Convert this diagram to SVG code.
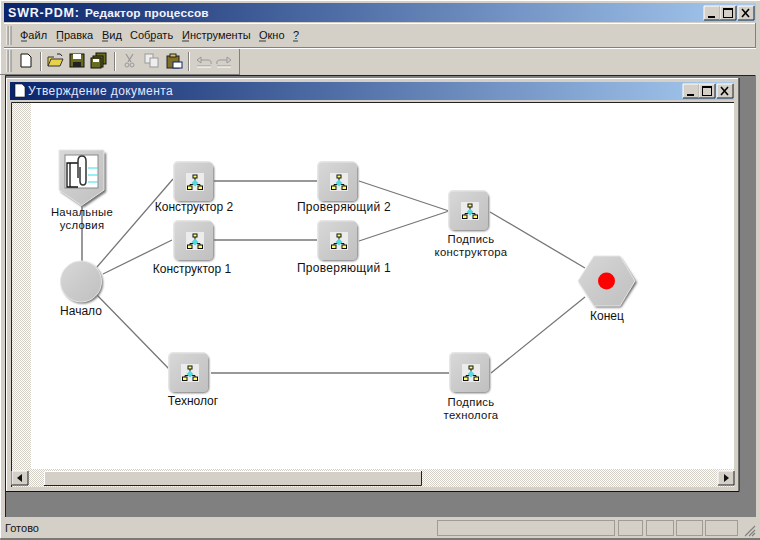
<svg xmlns="http://www.w3.org/2000/svg" xmlns:xlink="http://www.w3.org/1999/xlink" width="760" height="540" viewBox="0 0 760 540">
<style>
text{font-family:"Liberation Sans",Arial,sans-serif;font-size:11px;fill:#111}
.lbl{text-anchor:middle;font-size:12px}
.lb2{text-anchor:middle;font-size:11.3px;letter-spacing:.3px}
.cap{font-weight:bold;fill:#f4f4ff;font-size:12.5px;letter-spacing:.8px}
.cap2{font-weight:bold;fill:#f4f4ff;font-size:11.8px;letter-spacing:.2px}
.sub{fill:#e4e8ff;font-size:12px;letter-spacing:.42px}
.conn{stroke:#777;stroke-width:1.3;fill:none}
.sep{stroke:#fff;stroke-width:1}
.sep2{stroke:#808080;stroke-width:1}
.cell{fill:#d4d0c8;stroke:#a09c94;stroke-width:1}
.sq{fill:#ffff66;stroke:#111;stroke-width:1}
</style>
<defs>
<linearGradient id="tg" x1="0" x2="1" y1="0" y2="0"><stop offset="0" stop-color="#0a246a"/><stop offset="1" stop-color="#a6caf0"/></linearGradient>
<linearGradient id="bod" x1="0" x2="1" y1="0" y2="1"><stop offset="0" stop-color="#d8d8d8"/><stop offset=".5" stop-color="#cbcbcb"/><stop offset="1" stop-color="#c0c0c0"/></linearGradient>
<pattern id="dith" width="2" height="2" patternUnits="userSpaceOnUse"><rect width="2" height="2" fill="#fff"/><rect width="1" height="1" fill="#d4d0c8"/><rect x="1" y="1" width="1" height="1" fill="#d4d0c8"/></pattern>
<filter id="bl" x="-15%" y="-15%" width="130%" height="130%"><feGaussianBlur stdDeviation="0.8"/></filter>
<g id="proc">
<rect x="-19" y="-17" width="39" height="38" rx="5" fill="#6e6e6e" filter="url(#bl)"/>
<rect x="-21" y="-20" width="40" height="40" rx="5" fill="#e6e6e6"/>
<rect x="-19.500" y="-18.500" width="38.500" height="38.500" rx="4" fill="url(#bod)"/>
<rect x="-8" y="-8" width="18" height="18" fill="#ececec"/>
<path d="M1-3V1M-4 6V3.500H6V6" stroke="#111" stroke-width="1" fill="none"/>
<rect class="sq" x="-1" y="-6" width="4" height="3"/>
<rect class="sq" x="-6.500" y="5" width="4.500" height="3.500"/>
<rect class="sq" x="4" y="5" width="4.500" height="3.500"/>
<path d="M1-1.500L4.500 2 1 5.500-2.500 2Z" fill="#55d8e0"/>
</g>
<g id="btn">
<rect width="16" height="14" fill="#d4d0c8"/>
<path d="M0 14V0H16" stroke="#fff" fill="none"/>
<path d="M0 14H16V0" stroke="#222" fill="none"/>
</g>
</defs>

<rect width="760" height="540" fill="#d4d0c8"/>
<path d="M.5 540V.5H760" stroke="#fff" fill="none"/>
<path d="M0 539H760" stroke="#222"/>

<rect x="4" y="3" width="752" height="19" fill="url(#tg)"/>
<text x="8" y="17" class="cap">SWR-PDM:</text><text x="85" y="17" class="cap2">Редактор процессов</text>
<use xlink:href="#btn" x="704" y="6"/><use xlink:href="#btn" x="720" y="6"/><use xlink:href="#btn" x="738" y="6"/>
<path d="M708 17h7" stroke="#000" stroke-width="2"/>
<rect x="723.500" y="8.500" width="9" height="9" fill="none" stroke="#000"/><path d="M723 9h10" stroke="#000" stroke-width="2"/>
<path d="M742 9l7 8M749 9l-7 8" stroke="#000" stroke-width="1.600"/>

<path class="sep" d="M4 23.500H756M4 48.500H756"/>
<path class="sep2" d="M4 47.500H756M755.500 23V48"/>
<path d="M7 26V45M10 26V45" stroke="#fff"/><path d="M8 26V45M11 26V45" stroke="#808080"/>
<g id="menu">
<text x="20" y="39">Файл</text><text x="56" y="39">Правка</text><text x="102" y="39">Вид</text><text x="130" y="39">Собрать</text><text x="182" y="39">Инструменты</text><text x="259" y="39">Окно</text><text x="293" y="39">?</text>
<path d="M21 41h6M57 41h6M102 41h6M149 41h6M182 41h7M259 41h7M293 41h5" stroke="#111" stroke-width=".8"/>
</g>

<path d="M7 50V72M10 50V72" stroke="#fff"/><path d="M8 50V72M11 50V72" stroke="#808080"/>
<path d="M239.500 49V74" stroke="#808080"/><path d="M0 74.500H240" stroke="#808080"/>
<path class="sep2" d="M40.500 52V71M114.500 52V71M188.500 52V71"/><path class="sep" d="M41.500 52V71M115.500 52V71M189.500 52V71"/>
<g id="toolbar">
<path d="M21 54h7l3 3v10H21Z" fill="#fff" stroke="#111"/>
<path d="M48 66l3-7h12l-3 7ZM48 66V57h6" fill="#e8d24a" stroke="#333"/><path d="M57 54q4-1 5 2" stroke="#222" fill="none"/>
<rect x="70" y="54" width="14" height="13" fill="#6b6b20" stroke="#111"/><rect x="73" y="54" width="8" height="5" fill="#fff"/><rect x="73" y="62" width="8" height="5" fill="#222"/>
<rect x="96" y="53" width="10" height="11" fill="#6b6b20" stroke="#111"/><rect x="93" y="56" width="10" height="11" fill="#6b6b20" stroke="#111"/><rect x="91" y="58" width="10" height="10" fill="#6b6b20" stroke="#111"/><rect x="93" y="59" width="6" height="3" fill="#fff"/>
<path d="M126 54l5 8M133 54l-5 8" stroke="#999" stroke-width="1.300" fill="none"/><circle cx="127" cy="65" r="2" fill="none" stroke="#999"/><circle cx="132" cy="65" r="2" fill="none" stroke="#999"/>
<rect x="145" y="54" width="8" height="9" fill="#eee" stroke="#999"/><rect x="150" y="58" width="8" height="9" fill="#eee" stroke="#999"/>
<rect x="167" y="56" width="12" height="12" fill="#80702a" stroke="#222"/><rect x="170" y="54" width="6" height="3" fill="#d8c850" stroke="#222"/><rect x="173" y="62" width="9" height="6" fill="#fff" stroke="#0a246a"/>
<path d="M197 66h14M201 60h7q4 0 3 4M197 60l4-3v6Z" stroke="#999" fill="none"/><path d="M197 67h14" stroke="#fff"/>
<path d="M217 66h14M227 60h-7q-4 0-3 4M231 60l-4-3v6Z" stroke="#999" fill="none"/><path d="M217 67h14" stroke="#fff"/>
</g>

<rect x="5" y="75" width="751" height="442" fill="#808080"/>
<path d="M5.500 517V75.500H755" stroke="#222" fill="none"/>
<rect x="6" y="78" width="733" height="414" fill="#d4d0c8"/>
<path d="M6.500 491V78.500H738" stroke="#fff" fill="none"/>
<path d="M6 491.500H739V78" stroke="#111" fill="none"/>
<rect x="10" y="82" width="724" height="18" fill="url(#tg)"/>
<path d="M15 84h7l3 3v10H15Z" fill="#fff" stroke="#111" stroke-width=".6"/>
<text x="28" y="95" class="sub">Утверждение документа</text>
<use xlink:href="#btn" x="683" y="84"/><use xlink:href="#btn" x="699" y="84"/><use xlink:href="#btn" x="717" y="84"/>
<path d="M687 95h7" stroke="#000" stroke-width="2"/>
<rect x="702.500" y="86.500" width="9" height="9" fill="none" stroke="#000"/><path d="M702 87h10" stroke="#000" stroke-width="2"/>
<path d="M721 87l7 8M728 87l-7 8" stroke="#000" stroke-width="1.600"/>

<rect x="12" y="103" width="722" height="384" fill="url(#dith)"/>
<rect x="31" y="103" width="703" height="366" fill="#fff"/>
<path d="M11.500 487V102.500H734" stroke="#222" fill="none"/>
<rect x="44" y="471" width="378" height="15" fill="#d4d0c8"/>
<path d="M44.500 486V471.500H422" stroke="#fff" fill="none"/><path d="M44 485.500H421.500V471" stroke="#222" fill="none"/>
<use xlink:href="#btn" x="12" y="471"/><use xlink:href="#btn" x="718" y="471"/>
<path d="M17 478l5-4v8Z" fill="#111"/><path d="M729 478l-5-4v8Z" fill="#111"/>

<g id="connectors">
<path d="M82 206V262" stroke="#999" stroke-width="2" fill="none"/>
<path class="conn" d="M97 267L173 179M103 274L172 240M97 295L171 371M214 181H318M214 240H318M359 181L449 211M359 241L449 211M490 212L585 268M211 373H450M491 373L585 297"/>
</g>

<g id="n-start-cond">
<path d="M61 153h45v39l-22.500 15.500L61 192Z" fill="#6e6e6e" filter="url(#bl)"/>
<path d="M59 150h45v40l-22.500 15.500L59 190Z" fill="url(#bod)" stroke="#e6e6e6"/>
<rect x="65" y="155" width="33" height="33" fill="#fff" stroke="#888"/>
<path d="M88 168h10M88 175h10M88 182h10" stroke="#2ee0e8"/>
<path d="M78 163H67V187H78M70 163V187" stroke="#111" stroke-width="1.300" fill="none"/>
<path d="M80 167V181Q80 185 83 185T86 181V161Q86 156 82 156T78 161V178" stroke="#333" stroke-width="1.500" fill="none"/>
<text x="82" y="216" class="lb2">Начальные</text><text x="82" y="229" class="lb2">условия</text>
</g>
<g id="n-start">
<circle cx="82.500" cy="283" r="20.500" fill="#6e6e6e" filter="url(#bl)"/>
<circle cx="81" cy="281.500" r="20.500" fill="url(#bod)" stroke="#e6e6e6"/>
<text x="81" y="315" class="lbl">Начало</text>
</g>
<g id="n-k2"><use xlink:href="#proc" x="194" y="181"/><text x="194" y="211" class="lbl">Конструктор 2</text></g>
<g id="n-k1"><use xlink:href="#proc" x="194" y="240"/><text x="192" y="273" class="lbl">Конструктор 1</text></g>
<g id="n-p2"><use xlink:href="#proc" x="338" y="181"/><text x="344" y="211" class="lbl" letter-spacing=".3">Проверяющий 2</text></g>
<g id="n-p1"><use xlink:href="#proc" x="338" y="240"/><text x="344" y="272" class="lbl" letter-spacing=".3">Проверяющий 1</text></g>
<g id="n-sign-k"><use xlink:href="#proc" x="469" y="210"/><text x="471" y="243" class="lb2">Подпись</text><text x="471" y="256" class="lb2">конструктора</text></g>
<g id="n-tech"><use xlink:href="#proc" x="189" y="372"/><text x="193" y="405" class="lbl">Технолог</text></g>
<g id="n-sign-t"><use xlink:href="#proc" x="470" y="372"/><text x="471" y="406" class="lb2">Подпись</text><text x="471" y="419" class="lb2">технолога</text></g>
<g id="n-end">
<path d="M596 258h25l16 24.500-16 25h-25l-16-25Z" fill="#6e6e6e" filter="url(#bl)"/>
<path d="M594 256h26l15 25-15 25h-26l-16-25Z" fill="url(#bod)" stroke="#e6e6e6"/>
<circle cx="606.500" cy="281" r="8.500" fill="#f00"/>
<text x="607" y="320" class="lbl">Конец</text>
</g>

<g id="status">
<text x="5" y="532" font-size="12">Готово</text>
<rect class="cell" x="437.500" y="520.500" width="177" height="15"/><rect class="cell" x="618.500" y="520.500" width="24" height="15"/><rect class="cell" x="646.500" y="520.500" width="27" height="15"/><rect class="cell" x="676.500" y="520.500" width="26" height="15"/><rect class="cell" x="705.500" y="520.500" width="32" height="15"/>
<path d="M745 536l10-10M749 536l6-6M752 536l3-3" stroke="#808080" stroke-width="1.200"/>
</g>
</svg>
